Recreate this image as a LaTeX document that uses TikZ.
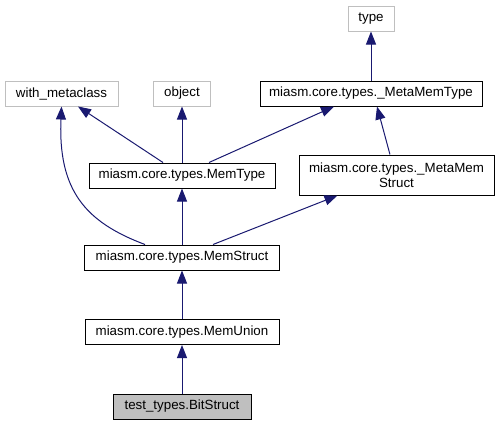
\documentclass[tikz,border=0pt]{standalone}
\usepackage{fontspec}
\setmainfont{Liberation Sans}
\usetikzlibrary{arrows.meta}
\definecolor{edgeblue}{RGB}{25,25,112}
\definecolor{extgray}{RGB}{191,191,191}
\begin{document}
\begin{tikzpicture}[x=0.75pt,y=-0.75pt,
        every node/.style={font=\fontsize{10}{11.25}\selectfont, inner sep=0pt, minimum height=18.75pt, align=center},
        cls/.style={draw=black, line width=0.75pt},
        extcls/.style={draw=extgray, line width=0.75pt},
        curcls/.style={draw=black, fill=extgray, line width=0.75pt},
        inh/.style={draw=edgeblue, line width=0.75pt, -{Triangle[length=9.75pt,width=7.5pt]}}]
        \useasboundingbox (0,0) rectangle (499,425);
        \node[extcls, minimum width=34.5pt] (type) at (371,18.5) {type};
        \node[extcls, minimum width=84.75pt] (withmeta) at (61.5,93.5) {with\_metaclass};
        \node[extcls, minimum width=42.75pt] (object) at (182,93.5) {object};
        \node[cls, minimum width=166.5pt] (metamemtype) at (371,93.5) {miasm.core.types.\_MetaMemType};
        \node[cls, minimum width=139.5pt] (memtype) at (182,175.5) {miasm.core.types.MemType};
        \node[cls, minimum width=146.25pt, minimum height=30pt] (metamemstruct) at (396.5,175) {miasm.core.types.\_MetaMem\\Struct};
        \node[cls, minimum width=146.25pt] (memstruct) at (182,257.5) {miasm.core.types.MemStruct};
        \node[cls, minimum width=145.5pt] (memunion) at (182,332) {miasm.core.types.MemUnion};
        \node[curcls, minimum width=103.5pt] (bitstruct) at (182,406.5) {test\_types.BitStruct};
        \draw[inh] (metamemtype.north) -- (type.south);
        \draw[inh] ([xshift=-14.25pt]memtype.north) -- ([xshift=12.4pt]withmeta.south);
        \draw[inh] (memtype.north) -- (object.south);
        \draw[inh] ([xshift=20.25pt]memtype.north) -- ([xshift=-27.75pt]metamemtype.south);
        \draw[inh] ([xshift=-4.9pt]metamemstruct.north) -- ([xshift=4.5pt]metamemtype.south);
        \draw[inh] ([xshift=-27.75pt]memstruct.north) .. controls (85,222) and (58,190) .. (withmeta.south);
        \draw[inh] (memstruct.north) -- (memtype.south);
        \draw[inh] ([xshift=23.25pt]memstruct.north) -- ([xshift=-44.25pt]metamemstruct.south);
        \draw[inh] (memunion.north) -- (memstruct.south);
        \draw[inh] (bitstruct.north) -- (memunion.south);
\end{tikzpicture}
\end{document}
